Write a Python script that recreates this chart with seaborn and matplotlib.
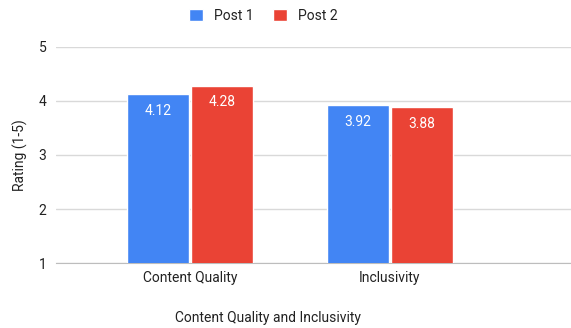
import seaborn as sns
import matplotlib.pyplot as plt
import pandas as pd

# Data
categories = ["Content Quality", "Inclusivity"]
post1 = [4.12, 3.92]
post2 = [4.28, 3.88]
series = ["Post 1", "Post 2"]
colors = ["#4285F4", "#EA4335"]

df = pd.DataFrame({
    "category": categories * 2,
    "rating": post1 + post2,
    "post": [series[0]] * 2 + [series[1]] * 2,
})

sns.set_style("white")
plt.rcParams["font.family"] = ["Roboto", "DejaVu Sans"]

fig = plt.figure(figsize=(5.71, 3.28), dpi=100)
ax = fig.add_axes([0.098, 0.198, 0.902, 0.659])

sns.barplot(data=df, x="category", y="rating", hue="post", palette=colors,
            saturation=1, width=0.64, gap=0.03, ax=ax, legend=True, zorder=3)

ax.set_ylim(1, 5)
ax.set_xlim(-0.67, 1.905)
ax.set_yticks([1, 2, 3, 4, 5])
ax.yaxis.grid(True, color="#d9d9d9", linewidth=1, zorder=0)
for s in ["top", "right", "left"]:
    ax.spines[s].set_visible(False)
ax.spines["bottom"].set_color("#bdbdbd")
ax.tick_params(axis="both", length=0, labelsize=10, colors="#222222")
ax.tick_params(axis="y", pad=7)
ax.tick_params(axis="x", pad=6)

# value labels inside bars
for cont in ax.containers:
    ax.bar_label(cont, fmt="%.2f", label_type="edge", padding=-17,
                 color="white", fontsize=10)

ax.set_ylabel("Rating (1-5)", fontsize=10, color="#222222")
ax.yaxis.set_label_coords(-0.055, 0.5)
ax.set_xlabel("Content Quality and Inclusivity", fontsize=10, color="#222222")
ax.xaxis.set_label_coords(0.412, -0.222)

ax.legend(loc="center", bbox_to_anchor=(0.403, 1.143), ncol=2, frameon=False,
          fontsize=10, handlelength=1.0, handleheight=1.0, columnspacing=1.4,
          handletextpad=0.8, labelcolor="#222222")

fig.savefig("out.png", dpi=100)
